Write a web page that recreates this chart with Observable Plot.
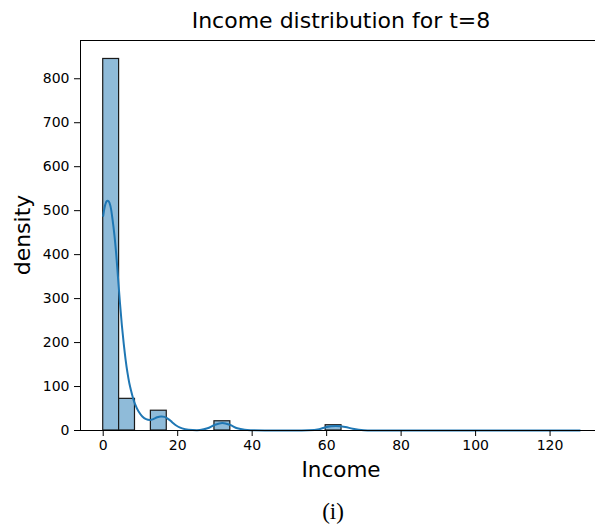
<!DOCTYPE html>
<html><head><meta charset="utf-8">
<script src="https://cdn.jsdelivr.net/npm/d3@7"></script>
<script src="https://cdn.jsdelivr.net/npm/@observablehq/plot@0.6"></script>
<style>
body{margin:0;background:#fff;font-family:"DejaVu Sans",sans-serif}
#wrap{position:relative;width:595px;height:525px;overflow:hidden}
.lbl{position:absolute;white-space:nowrap;line-height:1;color:#000}
</style></head><body><div id="wrap"></div>
<script>
// Histogram bins (bin width 128/30)
const binStart = [0, 4.267, 12.8, 29.867, 59.733];
const binEnd   = [4.267, 8.533, 17.067, 34.133, 64];
const binCount = [845, 72, 45, 21, 12];

// KDE curve
const kdeX = [0, 0.5, 1, 1.5, 2, 2.5, 3, 3.5, 4, 4.5, 5, 5.5, 6, 6.5, 7, 7.5, 8, 8.5, 9.5, 10.5, 11.5, 12.5, 13.5, 14.5, 15.5, 16.5, 17.5, 18.5, 19.5, 20.5, 22, 24, 26, 28, 30, 32, 34, 36, 38, 40, 45, 55, 58, 60, 62.5, 65, 67, 70, 75, 128];
const kdeY = [488, 512, 522, 521, 508, 480, 445, 400, 345, 290, 240, 198, 162, 132, 108, 90, 74, 61, 43, 32, 26, 24, 26, 30, 32, 31, 26, 19, 12, 7, 3, 1, 1, 5, 13, 17, 13, 5, 1.5, 0.5, 0, 0.3, 3, 8, 10, 8, 4, 0.5, 0, 0];

const xTicks = [0, 20, 40, 60, 80, 100, 120];
const yTicks = [0, 100, 200, 300, 400, 500, 600, 700, 800];

const bars = binStart.map((s, i) => ({x1: s, x2: binEnd[i], y: binCount[i]}));
const kde = kdeX.map((x, i) => ({x, y: kdeY[i]}));

const xMin = -6.1, xMax = 132.2, yMax = 887;

const chart = Plot.plot({
  width: 595, height: 525,
  marginLeft: 80, marginRight: 0, marginTop: 40, marginBottom: 95,
  x: {domain: [xMin, xMax]},
  y: {domain: [0, yMax]},
  style: {fontFamily: "DejaVu Sans", fontSize: "14px", color: "#000", background: "#fff"},
  marks: [
    Plot.rectY(bars, {x1: "x1", x2: "x2", y: "y", fill: "#8fbbd9", stroke: "#1a1a1a", strokeWidth: 1.2}),
    Plot.line(kde, {x: "x", y: "y", stroke: "#1f77b4", strokeWidth: 2, curve: "catmull-rom"}),
    Plot.axisX({ticks: xTicks, tickSize: 6, tickPadding: 4, fontSize: 14, label: null, stroke: "#000"}),
    Plot.axisY({ticks: yTicks, tickSize: 6, tickPadding: 5, fontSize: 14, label: null, stroke: "#000"}),
    Plot.ruleY([0], {stroke: "#000", strokeWidth: 1}),
    Plot.ruleY([yMax], {stroke: "#000", strokeWidth: 1}),
    Plot.ruleX([xMin], {stroke: "#000", strokeWidth: 1})
  ]
});
const wrap = document.getElementById("wrap");
wrap.appendChild(chart);

function addLabel(text, x, y, css) {
  const d = document.createElement("div");
  d.className = "lbl";
  d.textContent = text;
  d.style.left = x + "px";
  d.style.top = y + "px";
  Object.assign(d.style, css);
  wrap.appendChild(d);
  return d;
}
addLabel("Income distribution for t=8", 341, 21, {fontSize: "22px", transform: "translate(-50%,-50%)"});
addLabel("Income", 341, 470, {fontSize: "21.5px", transform: "translate(-50%,-50%)"});
addLabel("density", 23, 235, {fontSize: "22px", transform: "translate(-50%,-50%) rotate(-90deg)"});
addLabel("(i)", 333, 511, {fontSize: "23px", fontFamily: "'Liberation Serif', serif", transform: "translate(-50%,-50%)"});
</script></body></html>
